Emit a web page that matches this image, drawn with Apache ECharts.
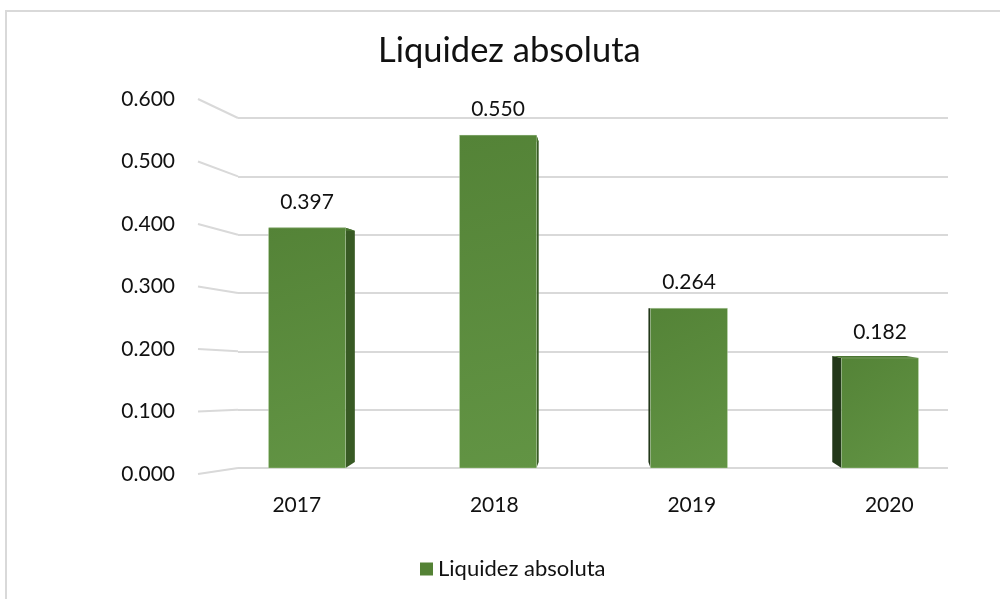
<!DOCTYPE html>
<html>
<head>
<meta charset="utf-8">
<script src="https://cdn.jsdelivr.net/npm/echarts@6/dist/echarts.min.js"></script>
<style>
html,body{margin:0;padding:0;background:#fff;}
#chart{width:1000px;height:599px;}
</style>
</head>
<body>
<div id="chart"></div>
<script>
// ---- data ----
const chartTitle = 'Liquidez absoluta';
const seriesName = 'Liquidez absoluta';
const categories = ['2017', '2018', '2019', '2020'];
const values = [0.397, 0.550, 0.264, 0.182];
const gridValues = [0, 0.1, 0.2, 0.3, 0.4, 0.5, 0.6];

// ---- style ----
const FONT = 'Lato';
const TXT = '#111111';
const GRID_COLOR = '#d9d9d9';
// simple perspective for the 3D bar sides
const VX = 595, VY = 308, K = 0.9625;

const myChart = echarts.init(document.getElementById('chart'), null, {renderer: 'canvas'});

function persp(x, y) { return [VX + K * (x - VX), VY + K * (y - VY)]; }

function renderBar(params, api) {
  const i = api.value(0), v = api.value(1);
  const top = api.coord([i, v]);
  const base = api.coord([i, 0]);
  const w = api.size([1, 0])[0] * 0.403;
  const x0 = top[0] - w / 2, x1 = top[0] + w / 2, yt = top[1], yb = base[1];
  const children = [];
  let sx, sideColor;
  if (top[0] < VX) { sx = x1; sideColor = '#385a24'; } else { sx = x0; sideColor = '#23381a'; }
  children.push({
    type: 'polygon',
    shape: {points: [[sx, yt], [sx, yb], persp(sx, yb), persp(sx, yt)]},
    style: {fill: sideColor}
  });
  children.push({
    type: 'polygon',
    shape: {points: [[x0, yt], [x1, yt], persp(x1, yt), persp(x0, yt)]},
    style: {fill: '#4a7530'}
  });
  children.push({
    type: 'rect',
    shape: {x: x0, y: yt, width: w, height: yb - yt},
    style: {
      fill: new echarts.graphic.LinearGradient(0, 0, 1, 1, [
        {offset: 0, color: '#548337'},
        {offset: 1, color: '#629444'}
      ]),
      stroke: 'rgba(200,225,185,0.35)', lineWidth: 1
    }
  });
  children.push({
    type: 'text',
    x: top[0], y: yt - 26,
    style: {
      text: v.toFixed(3), fill: TXT, fontFamily: FONT, fontSize: 21,
      align: 'center', verticalAlign: 'middle'
    }
  });
  return {type: 'group', children: children};
}

function renderSlant(params, api) {
  const v = api.value(0);
  const left = api.coord([0, v]);
  const by = myChart.convertToPixel({yAxisIndex: 0}, v);
  const bx = myChart.convertToPixel({xAxisIndex: 0}, 0);
  return {
    type: 'line',
    shape: {x1: left[0], y1: left[1], x2: bx, y2: by},
    style: {stroke: GRID_COLOR, lineWidth: 2}
  };
}

const option = {
  animation: false,
  backgroundColor: '#ffffff',
  title: {
    text: chartTitle,
    left: 373, top: 28,
    textStyle: {fontFamily: FONT, fontSize: 34.5, fontWeight: 'normal', color: TXT}
  },
  legend: {
    data: [{name: seriesName, icon: 'rect'}],
    left: 415, top: 553,
    itemWidth: 13, itemHeight: 13, itemGap: 6,
    textStyle: {fontFamily: FONT, fontSize: 22, color: TXT}
  },
  graphic: [{
    type: 'polyline',
    shape: {points: [[6, 599], [6, 11], [1000, 11]]},
    style: {stroke: GRID_COLOR, lineWidth: 2, fill: null},
    silent: true
  }],
  grid: [
    {left: 238, right: 52, top: 118, bottom: 131},   // back wall
    {left: 211.5, right: 24.5, top: 105, bottom: 131}, // front plane of bars
    {left: 198, right: 52, top: 99, bottom: 125},    // value labels / slanted part
    {left: 198, right: 12, top: 99, bottom: 125}     // category labels
  ],
  xAxis: [
    {gridIndex: 0, type: 'value', min: 0, max: 1, show: false},
    {gridIndex: 1, type: 'category', data: categories, show: false},
    {gridIndex: 2, type: 'value', min: 0, max: 1, show: false},
    {gridIndex: 3, type: 'category', data: categories,
     axisLine: {show: false}, axisTick: {show: false},
     axisLabel: {margin: 21, fontFamily: FONT, fontSize: 21, color: TXT}}
  ],
  yAxis: [
    {gridIndex: 0, type: 'value', min: 0, max: 0.6, interval: 0.1,
     axisLine: {show: false}, axisTick: {show: false}, axisLabel: {show: false},
     splitLine: {show: true, lineStyle: {color: GRID_COLOR, width: 2}}},
    {gridIndex: 1, type: 'value', min: 0, max: 0.6, show: false},
    {gridIndex: 2, type: 'value', min: 0, max: 0.6, interval: 0.1,
     axisLine: {show: false}, axisTick: {show: false}, splitLine: {show: false},
     axisLabel: {margin: 23, fontFamily: FONT, fontSize: 21, color: TXT,
                 formatter: v => v.toFixed(3)}},
    {gridIndex: 3, type: 'value', min: 0, max: 0.6, show: false}
  ],
  series: [
    {
      type: 'custom', name: 'slant',
      xAxisIndex: 2, yAxisIndex: 2,
      data: gridValues.map(v => [v]),
      encode: {y: 0},
      renderItem: renderSlant,
      silent: true, z: 1
    },
    {
      type: 'custom', name: seriesName,
      xAxisIndex: 1, yAxisIndex: 1,
      itemStyle: {color: '#548235'},
      data: values.map((v, i) => [i, v]),
      encode: {x: 0, y: 1},
      renderItem: renderBar, z: 5
    }
  ]
};
myChart.setOption(option);
</script>
</body>
</html>
